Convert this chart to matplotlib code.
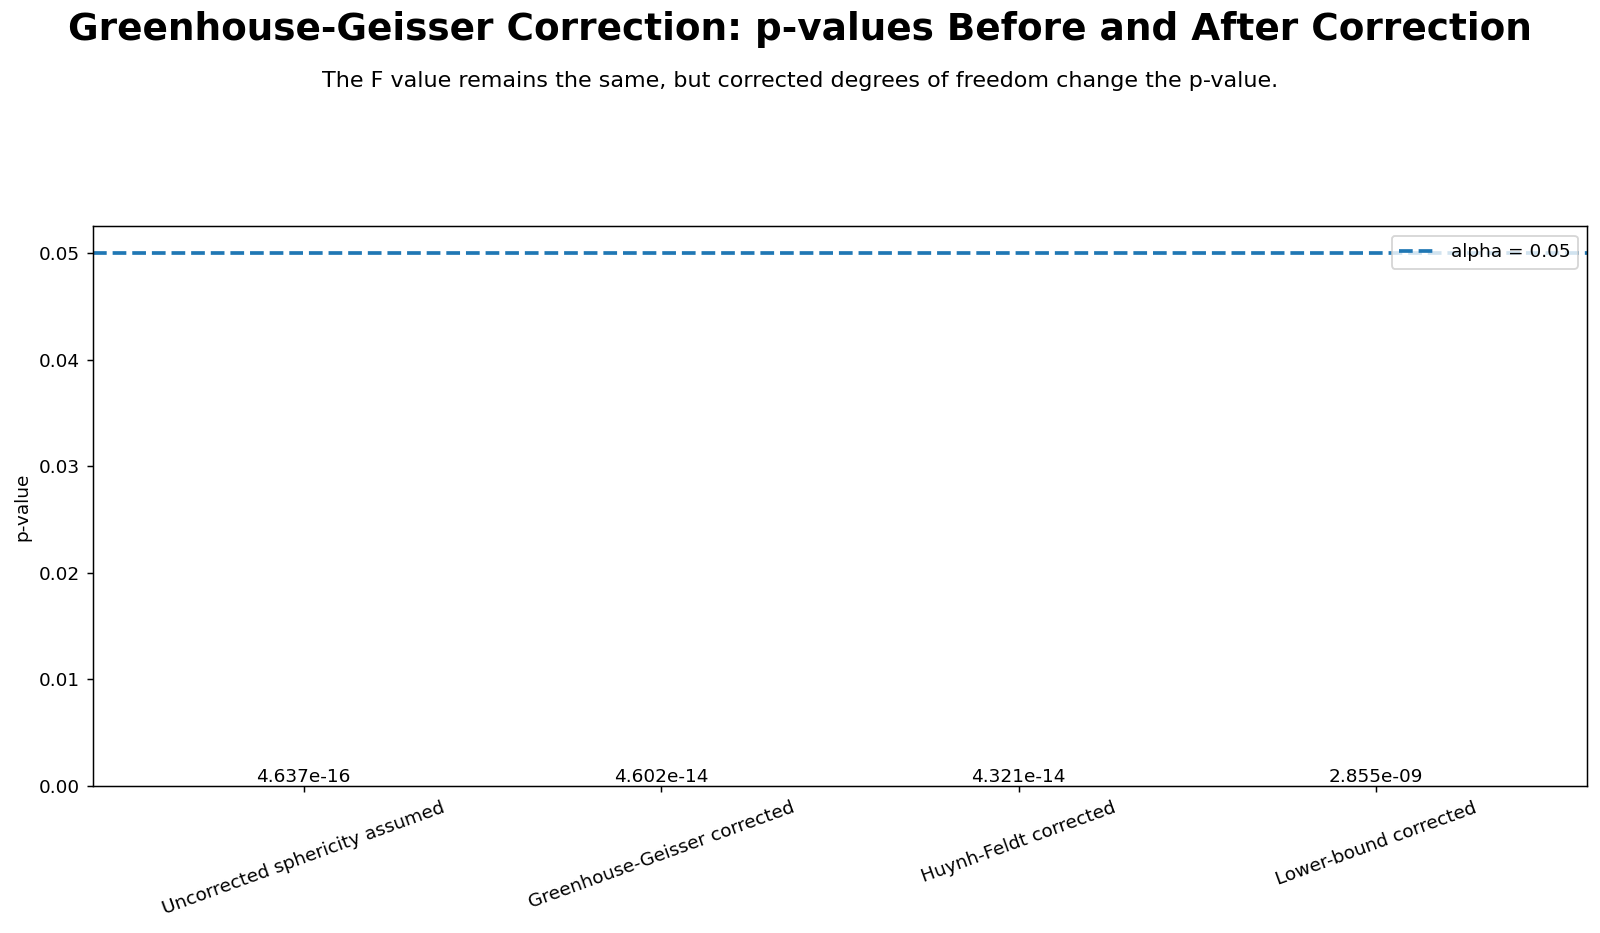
import matplotlib
matplotlib.use("Agg")
import matplotlib.pyplot as plt
import numpy as np

categories = ["Uncorrected sphericity assumed", "Greenhouse-Geisser corrected",
              "Huynh-Feldt corrected", "Lower-bound corrected"]
p_values = [4.637e-16, 4.602e-14, 4.321e-14, 2.855e-09]
labels = ["4.637e-16", "4.602e-14", "4.321e-14", "2.855e-09"]
alpha = 0.05

fig = plt.figure(figsize=(12, 7), dpi=400/3)
ax = fig.add_axes([0.058, 0.158, 0.934, 0.599])
x = np.arange(len(categories))
bars = ax.bar(x, p_values, color=["#4c72b0", "#dd8452", "#55a868", "#c44e52"])
ax.axhline(alpha, color="#1f77b4", linestyle="--", linewidth=2, label="alpha = 0.05")
for xi, v, lab in zip(x, p_values, labels):
    ax.text(xi, v, lab, ha="center", va="bottom", fontsize=10)
ax.set_xticks(x)
ax.set_xticklabels(categories, rotation=20, ha="center")
ax.set_ylabel("p-value")
ax.legend(loc="upper right")
fig.suptitle("Greenhouse-Geisser Correction: p-values Before and After Correction",
             fontsize=20.2, fontweight="bold", y=0.988)
fig.text(0.5, 0.913, "The F value remains the same, but corrected degrees of freedom change the p-value.",
         ha="center", va="center", fontsize=12)
fig.savefig("out.png")
